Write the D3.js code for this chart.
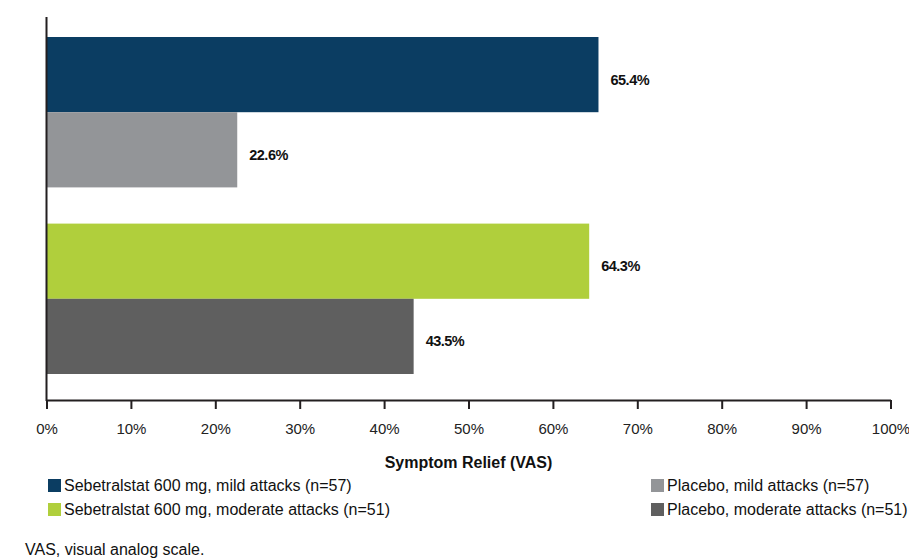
<!DOCTYPE html>
<html>
<head>
<meta charset="utf-8">
<script src="https://cdn.jsdelivr.net/npm/d3@7"></script>
<style>
  html, body { margin: 0; padding: 0; background: #fff; }
  svg { display: block; font-family: "Liberation Sans", Arial, sans-serif; }
</style>
</head>
<body>
<svg id="chart" width="909" height="558"></svg>
<script>
// Attack severity groups and the two arms within each group
const groups = ["mild", "moderate"];
const arms = ["Sebetralstat 600 mg", "Placebo"];

// Percentage of attacks with symptom relief (VAS), by group then arm
const mildValues = [65.4, 22.6];
const moderateValues = [64.3, 43.5];

// Legend labels, in the order the bars are drawn
const seriesLabels = [
  "Sebetralstat 600 mg, mild attacks (n=57)",
  "Placebo, mild attacks (n=57)",
  "Sebetralstat 600 mg, moderate attacks (n=51)",
  "Placebo, moderate attacks (n=51)"
];
const seriesColors = ["#0b3d62", "#939598", "#b0cf3c", "#5f5f5f"];

const xTicks = [0, 10, 20, 30, 40, 50, 60, 70, 80, 90, 100];
const xTitle = "Symptom Relief (VAS)";
const footnote = "VAS, visual analog scale.";

const rows = [];
[mildValues, moderateValues].forEach((vals, gi) => {
  vals.forEach((v, ai) => {
    rows.push({ group: groups[gi], arm: arms[ai], value: v, series: gi * 2 + ai });
  });
});

const svg = d3.select("#chart");

const x = d3.scaleLinear().domain([0, 100]).range([46.5, 890.5]);
const yGroup = d3.scaleBand().domain(groups).range([37, 374]).paddingInner(0.194).paddingOuter(0);
const yArm = d3.scaleBand().domain(arms).range([0, yGroup.bandwidth()]).padding(0);

const axisY = 400;

// Bars
svg.append("g").selectAll("rect")
  .data(rows)
  .join("rect")
  .attr("x", x(0))
  .attr("y", d => yGroup(d.group) + yArm(d.arm))
  .attr("width", d => x(d.value) - x(0))
  .attr("height", yArm.bandwidth())
  .attr("fill", d => seriesColors[d.series]);

// Value labels
svg.append("g").selectAll("text")
  .data(rows)
  .join("text")
  .attr("x", d => x(d.value) + 12)
  .attr("y", d => yGroup(d.group) + yArm(d.arm) + yArm.bandwidth() / 2 + 5)
  .attr("dy", "0.35em")
  .attr("font-size", 14.5)
  .attr("letter-spacing", -0.5)
  .attr("font-weight", "bold")
  .attr("fill", "#111")
  .text(d => d.value.toFixed(1) + "%");

// X axis
const xAxis = d3.axisBottom(x)
  .tickValues(xTicks)
  .tickFormat(d => d + "%")
  .tickSize(9)
  .tickSizeOuter(0)
  .tickPadding(14);

const gx = svg.append("g")
  .attr("transform", `translate(0,${axisY})`)
  .call(xAxis);
gx.select(".domain").attr("stroke", "#231f20").attr("stroke-width", 2);
gx.selectAll(".tick line").attr("stroke", "#231f20").attr("stroke-width", 2);
gx.selectAll(".tick text")
  .attr("font-size", 15)
  .attr("font-family", "Liberation Sans, Arial, sans-serif")
  .attr("fill", "#222");

// Vertical axis line
svg.append("line")
  .attr("x1", x(0)).attr("x2", x(0))
  .attr("y1", 17).attr("y2", axisY + 1)
  .attr("stroke", "#231f20")
  .attr("stroke-width", 2);

// Axis title
svg.append("text")
  .attr("x", (x(0) + x(100)) / 2)
  .attr("y", 468)
  .attr("text-anchor", "middle")
  .attr("font-size", 16)
  .attr("font-weight", "bold")
  .attr("fill", "#111")
  .text(xTitle);

// Legend: two columns, two rows
const legendPos = [
  { x: 48, y: 479 },
  { x: 651, y: 479 },
  { x: 48, y: 503 },
  { x: 651, y: 503 }
];
const legend = svg.append("g").selectAll("g")
  .data(seriesLabels)
  .join("g")
  .attr("transform", (d, i) => `translate(${legendPos[i].x},${legendPos[i].y})`);
legend.append("rect")
  .attr("width", 13).attr("height", 13)
  .attr("fill", (d, i) => seriesColors[i]);
legend.append("text")
  .attr("x", 16)
  .attr("y", 6.5)
  .attr("dy", "0.36em")
  .attr("font-size", 16)
  .attr("fill", "#111")
  .text(d => d);

// Footnote
svg.append("text")
  .attr("x", 25)
  .attr("y", 555)
  .attr("font-size", 16)
  .attr("fill", "#111")
  .text(footnote);
</script>
</body>
</html>
